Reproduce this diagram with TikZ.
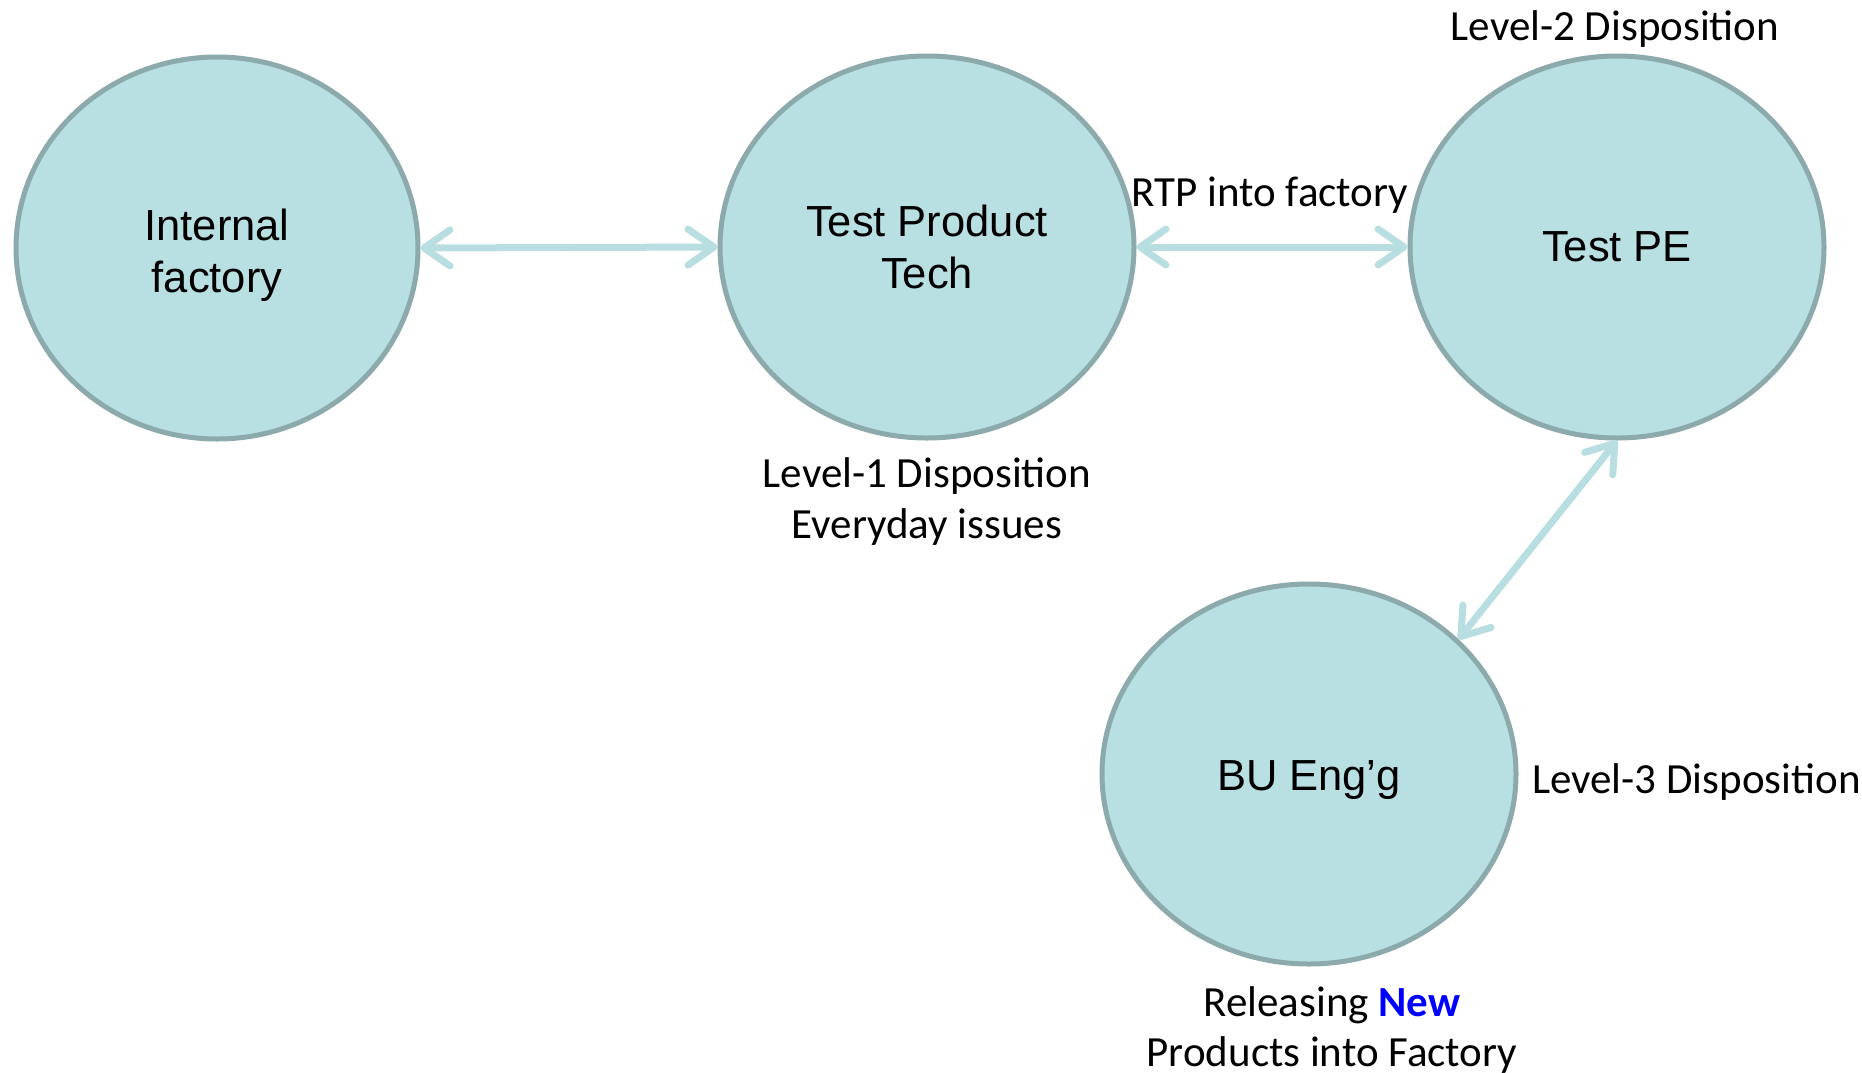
\documentclass[tikz,border=0pt]{standalone}
\usepackage{fontspec}
\setmainfont{Carlito}
\newfontfamily\arialf{Liberation Sans}
\usetikzlibrary{arrows.meta,shapes.geometric}
\definecolor{bubfill}{HTML}{B8DFE2}
\definecolor{bubline}{HTML}{8CA9AC}
\definecolor{arrcol}{HTML}{B8DEE1}
\definecolor{newblue}{HTML}{0000FF}
\tikzset{
  bubble/.style={ellipse, draw=bubline, fill=bubfill, line width=5pt, inner sep=0pt,
    minimum width=#1, minimum height=382pt, align=center,
    font=\arialf\fontsize{43.5}{52}\selectfont},
  bubble/.default=414pt,
  lbl/.style={font=\fontsize{43}{51}\selectfont, inner sep=0pt, align=center},
  link/.style={draw=arrcol, line width=7pt, line cap=round,
    {Straight Barb[length=26pt,width=36pt,line cap=round,line join=round]}-{Straight Barb[length=26pt,width=36pt,line cap=round,line join=round]}}
}
\begin{document}
\begin{tikzpicture}[x=1pt,y=-1pt]
\useasboundingbox (0,0) rectangle (1862,1072);
\node[bubble=402pt] (if) at (217,248) {\rule{0pt}{46pt}Internal\\factory};
\node[bubble] (tpt) at (927,247) {Test Product\\Tech};
\node[bubble] (tpe) at (1617,247) {Test PE};
\node[bubble, minimum height=380pt] (bu) at (1309,774) {\rule{0pt}{42pt}BU Eng’g};

\node[lbl, anchor=base] (l2) at (1615,40) {Level-2 Disposition};
\node[lbl, anchor=base] (rtp) at (1270,206) {RTP into factory};
\node[lbl, anchor=base] (l1) at (927,487) {Level-1 Disposition};
\node[lbl, anchor=base] (ev) at (927,538) {Everyday issues};
\node[lbl, anchor=base west] (l3) at (1532,793) {Level-3 Disposition};
\node[lbl, anchor=base] (rel) at (1332,1016) {Releasing \textbf{\color{newblue}New}};
\node[lbl, anchor=base] (prod) at (1332,1066) {Products into Factory};

\draw[link] (if.east) -- (tpt.west);
\draw[link] (tpt.east) -- (tpe.west);
\draw[link] (tpe.south) -- (bu.42);
\end{tikzpicture}
\end{document}
